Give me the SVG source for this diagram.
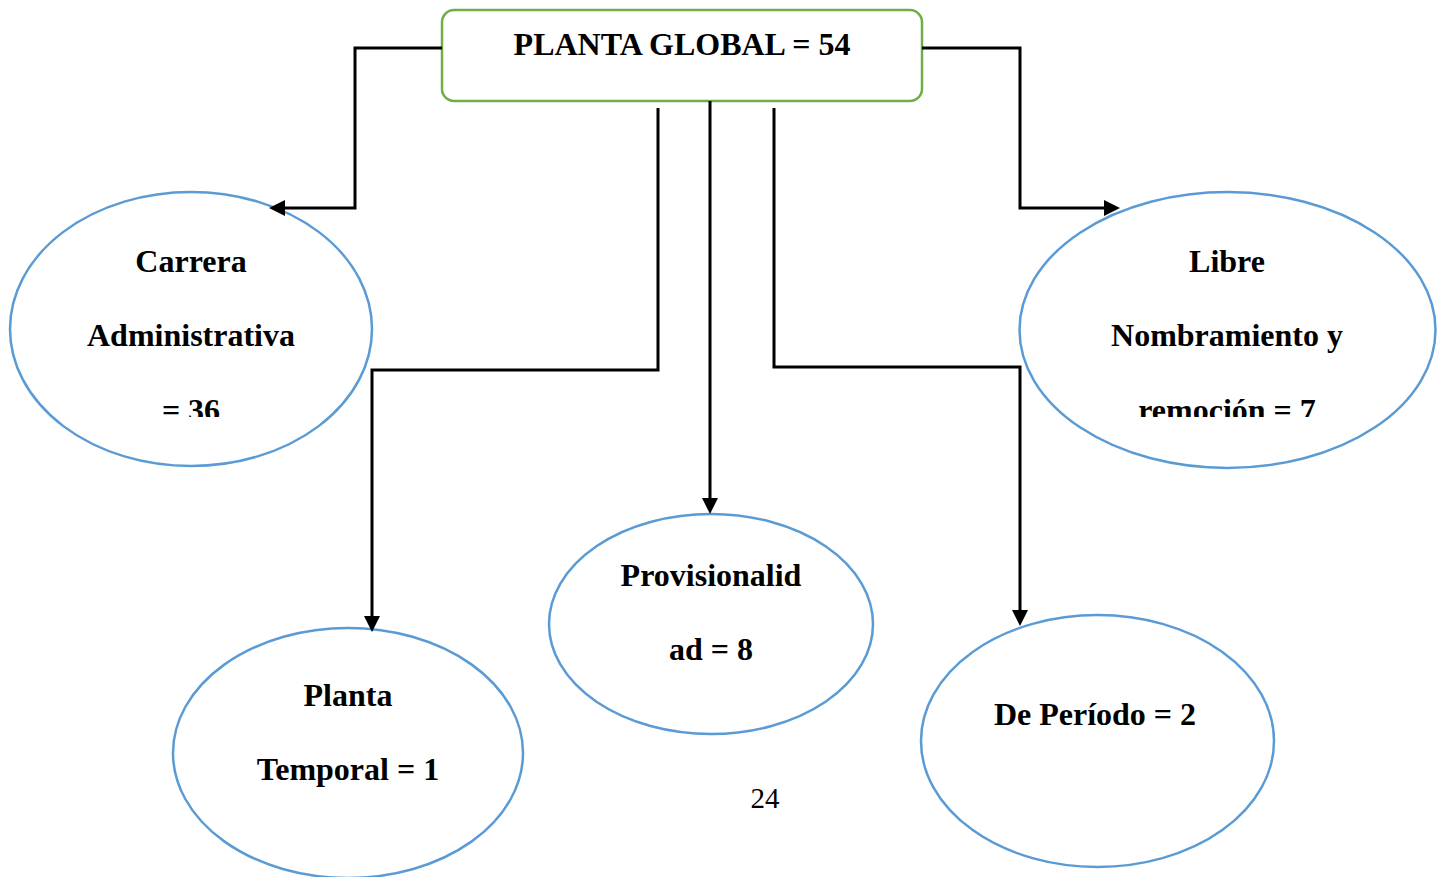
<svg xmlns="http://www.w3.org/2000/svg" width="1439" height="877" viewBox="0 0 1439 877">
<style>
.node{fill:#ffffff;stroke:#5B9BD5;stroke-width:2.5}
.box{fill:#ffffff;stroke:#70AD47;stroke-width:2.5}
.lbl{font-family:"Liberation Serif","Times New Roman",serif;font-weight:bold;font-size:32px;fill:#000;text-anchor:middle}
.pg{font-family:"Liberation Serif","Times New Roman",serif;font-size:29px;fill:#000;text-anchor:middle}
.conn{fill:none;stroke:#000;stroke-width:3}
</style>
<defs>
<marker id="arr" markerUnits="userSpaceOnUse" markerWidth="16" markerHeight="16" refX="0" refY="8" orient="auto">
<path d="M0,0 L16,8 L0,16 z" fill="#000"/>
</marker>
<clipPath id="clipA"><rect x="0" y="0" width="1439" height="417"/></clipPath>
</defs>
<rect width="1439" height="877" fill="#ffffff"/>
<g id="planta-global">
<rect class="box" x="442" y="10" width="480" height="91" rx="12" ry="12"/>
<text class="lbl" x="682" y="55">PLANTA GLOBAL = 54</text>
</g>
<g id="carrera">
<ellipse class="node" cx="191" cy="329" rx="181" ry="137"/>
<text class="lbl" x="191" y="272">Carrera</text>
<text class="lbl" x="191" y="346">Administrativa</text>
<text class="lbl" x="191" y="421" clip-path="url(#clipA)">= 36</text>
</g>
<g id="libre">
<ellipse class="node" cx="1227.5" cy="330" rx="208" ry="138"/>
<text class="lbl" x="1227" y="272">Libre</text>
<text class="lbl" x="1227" y="346">Nombramiento y</text>
<text class="lbl" x="1227" y="421" clip-path="url(#clipA)">remoción = 7</text>
</g>
<g id="planta-temporal">
<ellipse class="node" cx="348" cy="753" rx="175" ry="125"/>
<text class="lbl" x="348" y="706">Planta</text>
<text class="lbl" x="348" y="780">Temporal = 1</text>
</g>
<g id="provisionalidad">
<ellipse class="node" cx="711" cy="624" rx="162" ry="110"/>
<text class="lbl" x="711" y="586">Provisionalid</text>
<text class="lbl" x="711" y="660">ad = 8</text>
</g>
<g id="de-periodo">
<ellipse class="node" cx="1097.5" cy="741" rx="176.5" ry="126"/>
<text class="lbl" x="1095" y="725">De Período = 2</text>
</g>
<g id="connectors">
<path class="conn" d="M442,48 H355 V208 H285" marker-end="url(#arr)"/>
<path class="conn" d="M922,48 H1020 V208 H1104" marker-end="url(#arr)"/>
<path class="conn" d="M658,108 V370 H372 V616" marker-end="url(#arr)"/>
<path class="conn" d="M710,101 V498" marker-end="url(#arr)"/>
<path class="conn" d="M774,108 V367 H1020 V610" marker-end="url(#arr)"/>
</g>
<text class="pg" x="765" y="808">24</text>
</svg>
